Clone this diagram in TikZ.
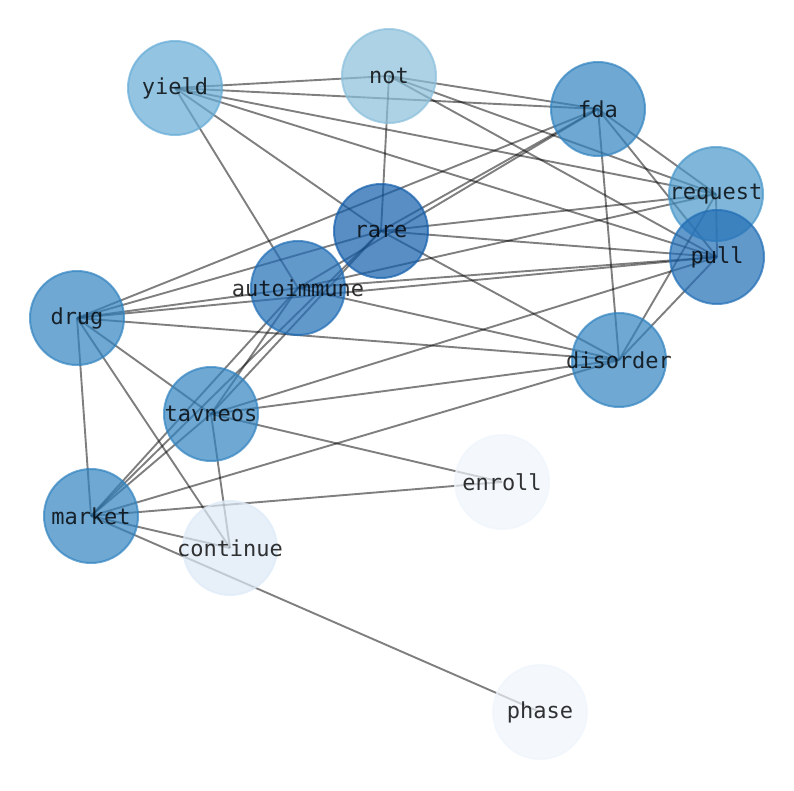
\documentclass[tikz,border=0pt]{standalone}
\usepackage{fontspec}
\setmonofont{DejaVu Sans Mono}
\usetikzlibrary{backgrounds}

\definecolor{cRare}{RGB}{19,94,171}
\definecolor{cPull}{RGB}{32,109,181}
\definecolor{cMid}{RGB}{49,131,192}
\definecolor{cRequest}{RGB}{72,151,202}
\definecolor{cYield}{RGB}{101,171,214}
\definecolor{cNot}{RGB}{138,191,219}
\definecolor{cContinue}{RGB}{221,234,247}
\definecolor{cFaint}{RGB}{239,245,252}

% word centred on the circle without widening it
\newcommand{\wlabel}[1]{\makebox[0pt][c]{#1}}

\tikzset{
  word/.style={circle, minimum size=94pt, inner sep=0pt, line width=2pt,
    fill opacity=0.7, draw opacity=0.7, text=black, text opacity=0.8,
    font=\ttfamily\fontsize{22}{26}\selectfont},
  link/.style={draw=black, draw opacity=0.5, line width=1.9pt}
}

\begin{document}
\begin{tikzpicture}[x=1pt,y=-1pt]

      \useasboundingbox (0,0) rectangle (794,790);

      \begin{scope}[every node/.style={word}]
        \node[fill=cYield, draw=cYield]       (yield)      at (175,88)  {\wlabel{yield}};
        \node[fill=cNot, draw=cNot]           (not)        at (389,76)  {\wlabel{not}};
        \node[fill=cMid, draw=cMid]           (fda)        at (598,109) {\wlabel{fda}};
        \node[fill=cRequest, draw=cRequest]   (request)    at (716,194) {\wlabel{request}};
        \node[fill=cPull, draw=cPull]         (pull)       at (717,257) {\wlabel{pull}};
        \node[fill=cRare, draw=cRare]         (rare)       at (381,231) {\wlabel{rare}};
        \node[fill=cPull, draw=cPull]         (autoimmune) at (298,288) {\wlabel{autoimmune}};
        \node[fill=cMid, draw=cMid]           (drug)       at (77,318)  {\wlabel{drug}};
        \node[fill=cMid, draw=cMid]           (disorder)   at (619,360) {\wlabel{disorder}};
        \node[fill=cMid, draw=cMid]           (tavneos)    at (211,414) {\wlabel{tavneos}};
        \node[fill=cFaint, draw=cFaint]       (enroll)     at (502,482) {\wlabel{enroll}};
        \node[fill=cMid, draw=cMid]           (market)     at (91,516)  {\wlabel{market}};
        \node[fill=cContinue, draw=cContinue] (continue)   at (230,548) {\wlabel{continue}};
        \node[fill=cFaint, draw=cFaint]       (phase)      at (540,712) {\wlabel{phase}};
      \end{scope}

      \begin{scope}[on background layer]

        \begin{scope}[every edge/.style={link}]
          \path (yield.center)      edge (not.center);
          \path (yield.center)      edge (fda.center);
          \path (yield.center)      edge (request.center);
          \path (yield.center)      edge (pull.center);
          \path (yield.center)      edge (rare.center);
          \path (yield.center)      edge (autoimmune.center);
          \path (not.center)        edge (fda.center);
          \path (not.center)        edge (request.center);
          \path (not.center)        edge (pull.center);
          \path (not.center)        edge (rare.center);
          \path (fda.center)        edge (request.center);
          \path (fda.center)        edge (pull.center);
          \path (fda.center)        edge (disorder.center);
          \path (fda.center)        edge (drug.center);
          \path (fda.center)        edge (rare.center);
          \path (fda.center)        edge (autoimmune.center);
          \path (request.center)    edge (rare.center);
          \path (request.center)    edge (autoimmune.center);
          \path (request.center)    edge (disorder.center);
          \path (request.center)    edge (pull.center);
          \path (pull.center)       edge (rare.center);
          \path (pull.center)       edge (autoimmune.center);
          \path (pull.center)       edge (drug.center);
          \path (pull.center)       edge (tavneos.center);
          \path (pull.center)       edge (disorder.center);
          \path (rare.center)       edge (drug.center);
          \path (rare.center)       edge (disorder.center);
          \path (rare.center)       edge (market.center);
          \path (rare.center)       edge (tavneos.center);
          \path (autoimmune.center) edge (drug.center);
          \path (autoimmune.center) edge (disorder.center);
          \path (autoimmune.center) edge (market.center);
          \path (autoimmune.center) edge (tavneos.center);
          \path (drug.center)       edge (disorder.center);
          \path (drug.center)       edge (tavneos.center);
          \path (drug.center)       edge (market.center);
          \path (drug.center)       edge (continue.center);
          \path (disorder.center)   edge (tavneos.center);
          \path (disorder.center)   edge (market.center);
          \path (tavneos.center)    edge (market.center);
          \path (tavneos.center)    edge (continue.center);
          \path (tavneos.center)    edge (enroll.center);
          \path (market.center)     edge (enroll.center);
          \path (market.center)     edge (continue.center);
          \path (market.center)     edge (phase.center);
        \end{scope}
      \end{scope}

    \end{tikzpicture}
\end{document}
